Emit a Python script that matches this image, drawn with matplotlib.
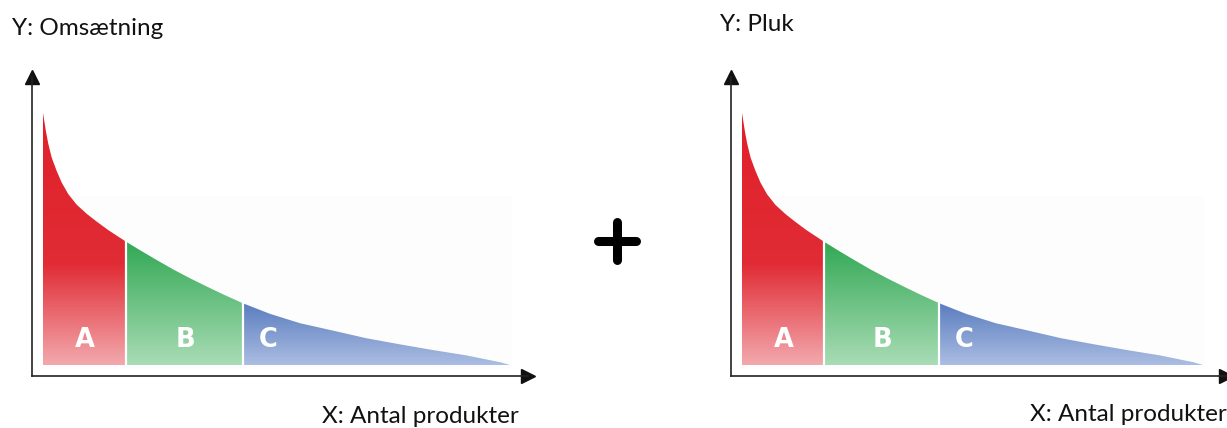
import numpy as np
import matplotlib
matplotlib.use('Agg')
import matplotlib.pyplot as plt
from matplotlib.colors import LinearSegmentedColormap
from matplotlib.patches import Polygon, Rectangle
from matplotlib.lines import Line2D

# ABC curve: x = share of products (%), y = value (% of max)
curve_x = [0, 0.64, 1.13, 1.86, 2.93, 4.0, 5.42, 7.22, 9.36, 11.5, 14.0, 17.8,
           21.0, 24.4, 28.0, 31.5, 35.0, 38.6, 42.8,
           48.6, 55.0, 62.2, 69.3, 76.4, 83.6, 90.7, 97.9, 100]
curve_y = [100, 92.6, 87.8, 82.3, 77.0, 72.4, 67.8, 63.6, 60.0, 56.9, 53.5, 48.9,
           45.3, 41.6, 37.8, 34.4, 31.2, 28.0, 24.5,
           20.3, 16.6, 13.6, 10.6, 8.2, 5.9, 3.8, 1.1, 0]

classes = ['A', 'B', 'C']
class_edges = [0, 17.8, 42.8, 100]
label_x = [9.0, 30.5, 48.3]
label_y = 10.0

# gradient stops (y value, colour) per class
class_colors = {
    'A': [(0, '#f2a9ad'), (40, '#e12c35'), (100, '#e0202a')],
    'B': [(0, '#a9dcb5'), (48.9, '#31a854')],
    'C': [(0, '#abbde2'), (24.5, '#5a7dbf')],
}

y_titles = ['Y: Omsætning', 'Y: Pluk']
x_titles = ['X: Antal produkter', 'X: Antal produkter']

W, H = 1227, 428
# pixel layout: y-axis x, x-axis y, fill left/right, fill bottom/top, arrow tips
panels = [
    dict(axis_x=32, axis_y=376, fx0=43, fx1=510, fy0=365, fy1=113, tip_x=535, tip_y=70,
         ytxt=(12, 35), xtxt=(322, 423)),
    dict(axis_x=731, axis_y=376, fx0=742, fx1=1203, fy0=365, fy1=113, tip_x=1233, tip_y=70,
         ytxt=(720, 31), xtxt=(1030, 421)),
]

plt.rcParams['font.family'] = ['Lato', 'DejaVu Sans']
fig = plt.figure(figsize=(W / 100, H / 100), dpi=100)

cx = np.array(curve_x)
cy = np.array(curve_y)

for i, p in enumerate(panels):
    sx = (p['fx1'] - p['fx0']) / 100.0   # px per data unit
    sy = (p['fy0'] - p['fy1']) / 100.0
    ax_right = p['tip_x'] - 7
    ax_top = p['tip_y'] + 7
    ax = fig.add_axes([p['axis_x'] / W, 1 - p['axis_y'] / H,
                       (ax_right - p['axis_x']) / W, (p['axis_y'] - ax_top) / H])
    for s in ['top', 'right']:
        ax.spines[s].set_visible(False)
    for s in ['left', 'bottom']:
        ax.spines[s].set_linewidth(1.2)
        ax.spines[s].set_color('#222222')
    ax.set_xticks([])
    ax.set_yticks([])
    ax.patch.set_alpha(0)
    ax.plot(1, 0, '>', color='#111111', ms=10, transform=ax.transAxes, clip_on=False)
    ax.plot(0, 1, '^', color='#111111', ms=10, transform=ax.transAxes, clip_on=False)

    # faint backdrop behind the curve
    ax.add_patch(Rectangle((0, -1), 100.5, 68, color='#fdfdfd', zorder=0, lw=0))

    for k, name in enumerate(classes):
        x0, x1 = class_edges[k], class_edges[k + 1]
        m = (cx >= x0) & (cx <= x1)
        verts = [(x0, 0)] + list(zip(cx[m], cy[m])) + [(x1, 0)]
        poly = Polygon(verts, closed=True, facecolor='none', edgecolor='none')
        ax.add_patch(poly)
        stops = class_colors[name]
        top = stops[-1][0]
        cmap = LinearSegmentedColormap.from_list(
            name, [(v / top, c) for v, c in stops])
        grad = np.linspace(0, 1, 256).reshape(-1, 1)
        im = ax.imshow(grad, cmap=cmap, extent=[x0, x1, 0, top], origin='lower',
                       aspect='auto', zorder=1, interpolation='bilinear')
        im.set_clip_path(poly)
        ax.text(label_x[k], label_y, name, color='white', fontsize=18.5,
                fontweight='bold', family='DejaVu Sans', ha='center', va='center', zorder=3)
    for e in class_edges[1:-1]:
        ax.plot([e, e], [0, np.interp(e, cx, cy)], color='white', lw=1.6, zorder=2)
    ax.set_xlim((p['axis_x'] - p['fx0']) / sx, (ax_right - p['fx0']) / sx)
    ax.set_ylim(-(p['axis_y'] - p['fy0']) / sy, (p['fy0'] - ax_top) / sy)

    fig.text(p['ytxt'][0] / W, 1 - p['ytxt'][1] / H, y_titles[i], fontsize=17.5,
             ha='left', va='baseline', color='#111111')
    fig.text(p['xtxt'][0] / W, 1 - p['xtxt'][1] / H, x_titles[i], fontsize=17.5,
             ha='left', va='baseline', color='#111111')

# plus sign between the two charts
cxp, cyp, half = 617 / W, 1 - 241 / H, 19
fig.add_artist(Line2D([cxp - half / W, cxp + half / W], [cyp, cyp], lw=6.5,
                      color='black', solid_capstyle='round'))
fig.add_artist(Line2D([cxp, cxp], [cyp - half / H, cyp + half / H], lw=6.5,
                      color='black', solid_capstyle='round'))

fig.savefig('out.png', dpi=100, facecolor='white')
